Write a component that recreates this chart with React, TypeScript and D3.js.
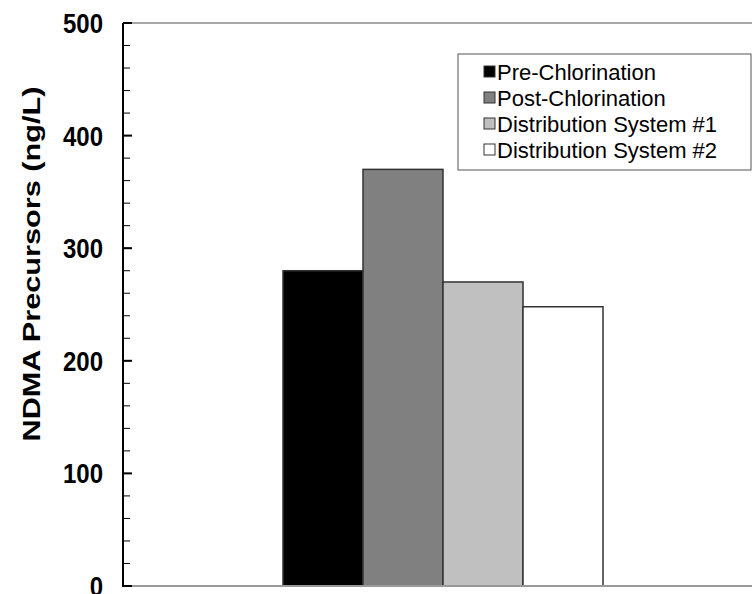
import React from "react";
import * as d3 from "d3";

const categories = ["Sample"];
const seriesNames = ["Pre-Chlorination", "Post-Chlorination", "Distribution System #1", "Distribution System #2"];
const seriesValues = [280, 370, 270, 248];
const seriesColors = ["#000000", "#808080", "#c0c0c0", "#ffffff"];
const yTicks = [0, 100, 200, 300, 400, 500];
const yMinorTicks = d3.range(0, 501, 20);

const W = 752, H = 594;
const left = 123, right = 763, top = 23, bottom = 586;

export default function App() {
  const y = d3.scaleLinear().domain([0, 500]).range([bottom, top]);
  const x0 = d3.scaleBand().domain(categories).range([left, right]).paddingInner(0).paddingOuter(0.5);
  const x1 = d3.scaleBand().domain(seriesNames).range([0, x0.bandwidth()]).padding(0);
  const font = "'Liberation Sans', Arial, sans-serif";
  return (
    <svg width={W} height={H} style={{ position: "absolute", left: 0, top: 0 }} fontFamily={font}>
      <rect x={0} y={0} width={W} height={H} fill="#fff" />
      <line x1={left} x2={W} y1={top} y2={top} stroke="#888" strokeWidth={1.5} />
      {categories.map((c) =>
        seriesNames.map((s, i) => (
          <rect
            key={c + s}
            x={(x0(c) ?? 0) + (x1(s) ?? 0)}
            y={y(seriesValues[i])}
            width={x1.bandwidth()}
            height={y(0) - y(seriesValues[i])}
            fill={seriesColors[i]}
            stroke="#333"
            strokeWidth={1.5}
          />
        ))
      )}
      <line x1={left} x2={W} y1={bottom} y2={bottom} stroke="#999" strokeWidth={2} />
      {yMinorTicks.map((t) => (
        <line key={"m" + t} x1={left} x2={left + 7} y1={y(t)} y2={y(t)} stroke="#000" strokeWidth={1} />
      ))}
      {yTicks.map((t) => (
        <line key={"M" + t} x1={left} x2={left + 9} y1={y(t)} y2={y(t)} stroke="#000" strokeWidth={2} />
      ))}
      <line x1={left} x2={left} y1={top} y2={bottom + 1} stroke="#000" strokeWidth={2} />
      {yTicks.map((t) => (
        <text
          key={"l" + t}
          transform={`translate(103,${y(t)}) scale(1,1.15)`}
          dy="0.36em"
          textAnchor="end"
          fontSize={24}
          fontWeight="bold"
        >
          {t}
        </text>
      ))}
      <text
        transform={`translate(40,264) rotate(-90)`}
        textAnchor="middle"
        fontSize={24}
        fontWeight="bold"
        textLength={355}
        lengthAdjust="spacingAndGlyphs"
      >
        NDMA Precursors (ng/L)
      </text>
      <rect x={458} y={54} width={293} height={116} fill="#fff" stroke="#555" strokeWidth={1} />
      {seriesNames.map((s, i) => (
        <g key={"lg" + s} transform={`translate(484, ${72 + i * 26})`}>
          <rect x={0} y={-6} width={11} height={11} fill={seriesColors[i]} stroke="#333" strokeWidth={1} />
          <text x={13} y={0} dy="0.36em" fontSize={22}>
            {s}
          </text>
        </g>
      ))}
    </svg>
  );
}
